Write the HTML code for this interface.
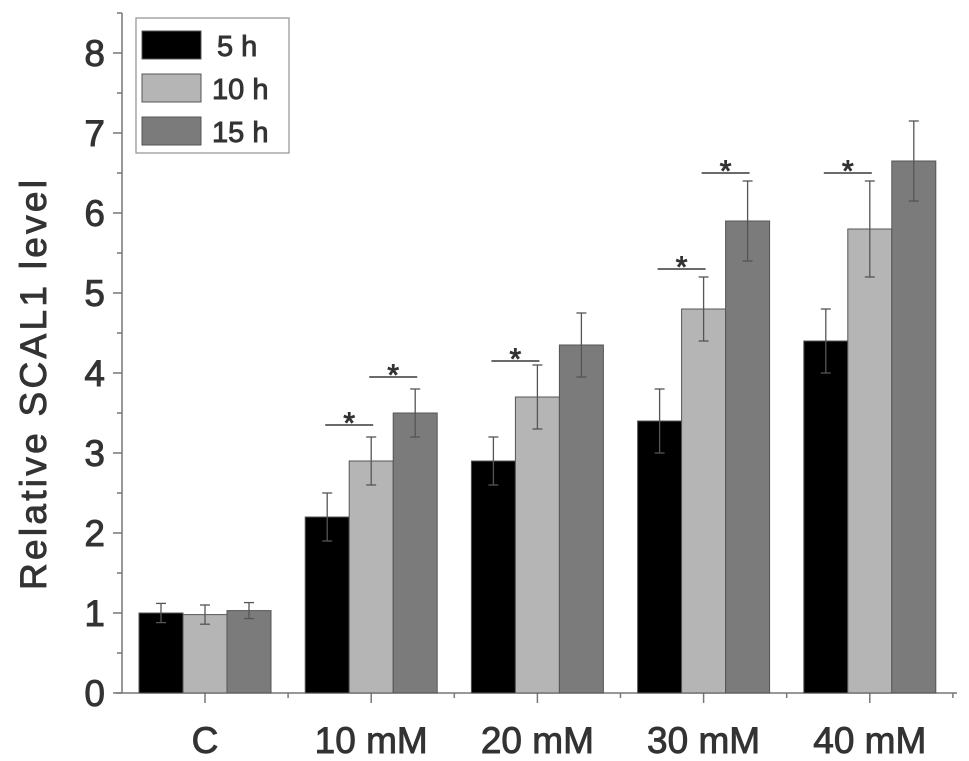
<!DOCTYPE html>
<html><head><meta charset="utf-8"><style>
html,body{margin:0;padding:0;background:#fff}
svg{display:block;font-family:"Liberation Sans",Arial,sans-serif}
.t{stroke:#333;stroke-width:0.9px}
</style></head><body>
<svg id="chart" width="969" height="761" viewBox="0 0 969 761"></svg>
<script>
const categories=["C","10 mM","20 mM","30 mM","40 mM"];
const seriesNames=["5 h","10 h","15 h"];
const values5=[1.0,2.2,2.9,3.4,4.4];
const values10=[0.98,2.9,3.7,4.8,5.8];
const values15=[1.03,3.5,4.35,5.9,6.65];
const err5=[0.12,0.3,0.3,0.4,0.4];
const err10=[0.12,0.3,0.4,0.4,0.6];
const err15=[0.1,0.3,0.4,0.5,0.5];
const yTicks=[0,1,2,3,4,5,6,7,8];
const sigCat=[1,1,2,3,3,4];
const sigFrom=[0,1,0,0,1,0];
const sigLevel=[3.35,3.95,4.15,5.3,6.5,6.5];

const svg=document.getElementById('chart');
const NS="http://www.w3.org/2000/svg";
const x0=122,y0=693,unit=80,groupW=166.2,firstCenter=205,barW=44;
const colors=["#000000","#b5b5b5","#7b7b7b"];
const vals=[values5,values10,values15],errs=[err5,err10,err15];
const yS=v=>y0-v*unit;
const gc=i=>firstCenter+i*groupW;
const bx=(i,s)=>gc(i)-1.5*barW+s*barW;
function el(t,a,p){const e=document.createElementNS(NS,t);for(const k in a)e.setAttribute(k,a[k]);(p||svg).appendChild(e);return e;}

const ax=el('line',{x1:x0,y1:yS(8.5),x2:x0,y2:y0,stroke:'#777','stroke-width':1.5});


const xax=el('line',{x1:x0-6,y1:y0,x2:957,y2:y0,stroke:'#777','stroke-width':1.5});


yTicks.forEach(v=>{
  el('line',{x1:x0-9,y1:yS(v),x2:x0,y2:yS(v),stroke:'#777','stroke-width':1.5});
  if(v<8) el('line',{x1:x0-5,y1:yS(v+0.5),x2:x0,y2:yS(v+0.5),stroke:'#777','stroke-width':1.5});
  const t=el('text',{class:'t',x:x0-17,y:yS(v)+13,'text-anchor':'end','font-size':37,fill:'#333'});
  t.textContent=v;
  
  
});
el('line',{x1:x0-5,y1:yS(8.5),x2:x0,y2:yS(8.5),stroke:'#777','stroke-width':1.5});
const yt=el('text',{class:'t',x:0,y:0,'text-anchor':'middle','font-size':37,fill:'#333',textLength:410,transform:'translate(46,385) rotate(-90)'});
yt.textContent="Relative SCAL1 level";



categories.forEach((c,i)=>{
  el('line',{x1:gc(i),y1:y0,x2:gc(i),y2:y0+10,stroke:'#777','stroke-width':1.5});
  el('line',{x1:gc(i)+groupW/2,y1:y0,x2:gc(i)+groupW/2,y2:y0+5,stroke:'#777','stroke-width':1.5});
  const t=el('text',{class:'t',x:gc(i),y:y0+60,'text-anchor':'middle','font-size':37,fill:'#333'});
  t.textContent=c;
  
  
  for(let s=0;s<3;s++){
    const v=vals[s][i],e=errs[s][i],x=bx(i,s);
    const r=el('rect',{x:x,y:yS(v),width:barW,height:y0-yS(v),fill:colors[s],stroke:'#555','stroke-width':1});
    
    
    const cx=x+barW/2;
    const g=el('g',{stroke:'#555','stroke-width':1.3});
    
    
    el('line',{x1:cx,y1:yS(v+e),x2:cx,y2:yS(v-e)},g);
    el('line',{x1:cx-5,y1:yS(v+e),x2:cx+5,y2:yS(v+e)},g);
    el('line',{x1:cx-5,y1:yS(v-e),x2:cx+5,y2:yS(v-e)},g);
  }
});
sigCat.forEach((ci,k)=>{
  const xa=bx(ci,sigFrom[k])+barW/2-2,xb=bx(ci,sigFrom[k]+1)+barW/2+2,y=yS(sigLevel[k]);
  const l=el('line',{x1:xa,y1:y,x2:xb,y2:y,stroke:'#555','stroke-width':1.8});
  
  
  const t=el('text',{class:'t',x:(xa+xb)/2,y:y+8,'text-anchor':'middle','font-size':30,fill:'#333'});
  t.textContent="*";
  
  
});
const lg=el('g',{});


el('rect',{x:136,y:18,width:153,height:135,fill:'#fff',stroke:'#999','stroke-width':1.3},lg);
seriesNames.forEach((n,s)=>{
  const y=31+s*43;
  el('rect',{x:142,y:y,width:59,height:28,fill:colors[s],stroke:'#555','stroke-width':1},lg);
  const t=el('text',{class:'t',x:n.length<4?217:212,y:y+25,'font-size':29,fill:'#333'},lg);
  t.textContent=n;
  
  
});
</script>
</body></html>
